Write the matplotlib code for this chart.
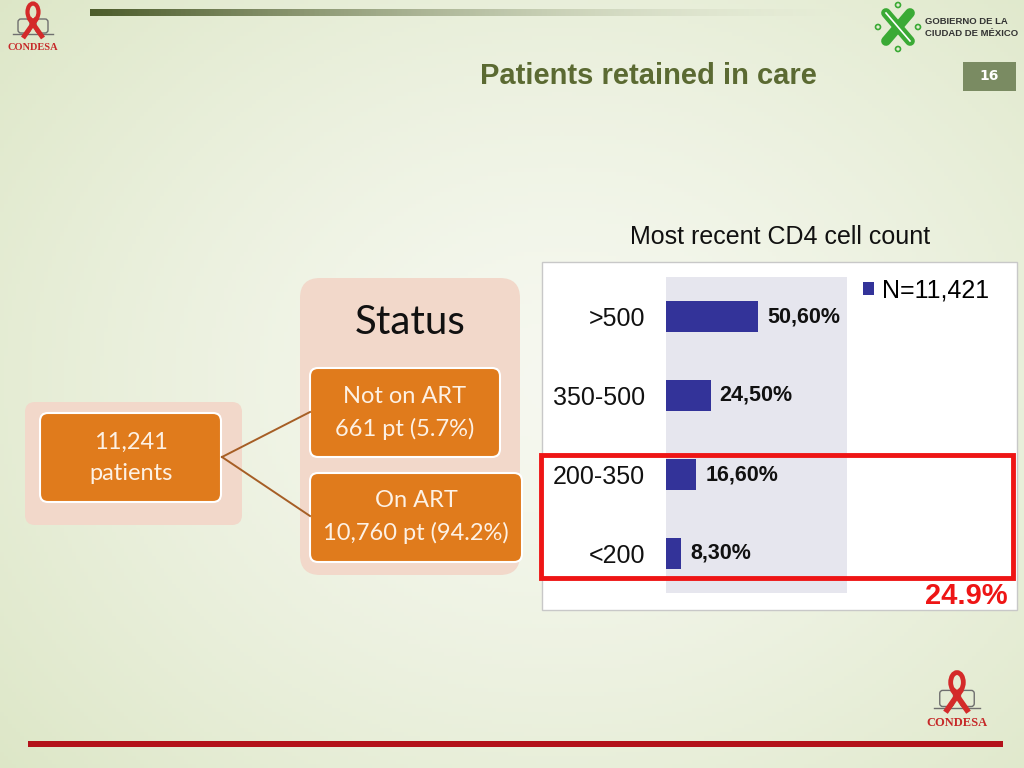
import numpy as np
import matplotlib
matplotlib.use("Agg")
import matplotlib.pyplot as plt
from matplotlib.patches import FancyBboxPatch, Rectangle, Circle, Ellipse

# ---------------- data ----------------
categories = [">500", "350-500", "200-350", "<200"]
values = [50.6, 24.5, 16.6, 8.3]
value_labels = ["50,60%", "24,50%", "16,60%", "8,30%"]
series_name = "N=11,421"
chart_title = "Most recent CD4 cell count"
highlight_label = "24.9%"
slide_title = "Patients retained in care"
page_number = "16"
root_text = "11,241\npatients"
group_title = "Status"
branch_texts = ["Not on ART\n661 pt (5.7%)", "On ART\n10,760 pt (94.2%)"]

W, H = 1024, 768
fig = plt.figure(figsize=(10.24, 7.68), dpi=100)

# ---------------- background layer (pixel coordinates) ----------------
bg = fig.add_axes([0, 0, 1, 1])
bg.set_xlim(0, W)
bg.set_ylim(H, 0)
bg.axis("off")

yy, xx = np.mgrid[0:H:4, 0:W:4]
r = np.sqrt(((xx - 560) / 640.0) ** 2 + ((yy - 380) / 520.0) ** 2)
c_center = np.array([0.965, 0.973, 0.94])
c_edge = np.array([0.86, 0.90, 0.77])
t = (np.clip(r, 0, 1.2) / 1.2)[..., None] ** 1.4
img = c_center * (1 - t) + c_edge * t
bg.imshow(img, extent=[0, W, H, 0], aspect="auto", zorder=0)

# top gradient bar
n = 300
grad = np.zeros((1, n, 4))
start = np.array([0.30, 0.36, 0.17])
end = np.array([0.90, 0.92, 0.84])
s = np.linspace(0, 1, n)[:, None]
grad[0, :, :3] = start * (1 - s) + end * s
grad[0, :, 3] = 1 - 0.85 * np.linspace(0, 1, n) ** 1.3
bg.imshow(grad, extent=[90, 830, 16, 9], aspect="auto", zorder=1)

# bottom red line
bg.add_patch(Rectangle((28, 741), 975, 6, facecolor="#b3121a", edgecolor="none", zorder=1))

# slide title & page number
bg.text(648, 76, slide_title, ha="center", va="center", fontsize=21, fontweight="bold",
        color="#5b6a32", family="Liberation Sans", zorder=2)
bg.add_patch(Rectangle((963, 62), 53, 29, facecolor="#7a8b62", edgecolor="none", zorder=2))
bg.text(989.5, 76.5, page_number, ha="center", va="center", fontsize=10, fontweight="bold",
        color="white", zorder=3)


# ---------------- logos ----------------
def condesa_logo(cx, top, scale, size):
    for dx in (-1, 1):
        bg.add_patch(FancyBboxPatch((cx + dx * 9 * scale - 6 * scale, top + 16 * scale), 12 * scale,
                                    14 * scale, boxstyle="round,pad=0,rounding_size=3",
                                    facecolor="none", edgecolor="#6f6f6f", lw=1.0, zorder=2))
    bg.plot([cx - 20 * scale, cx + 20 * scale], [top + 31 * scale, top + 31 * scale],
            color="#6f6f6f", lw=1.0, zorder=2)
    bg.add_patch(Ellipse((cx, top + 9 * scale), 11 * scale, 17 * scale, facecolor="none",
                         edgecolor="#d42a2a", lw=3 * scale, zorder=3))
    bg.plot([cx - 4 * scale, cx + 10 * scale], [top + 15 * scale, top + 35 * scale],
            color="#d42a2a", lw=3.5 * scale, solid_capstyle="butt", zorder=3)
    bg.plot([cx + 4 * scale, cx - 10 * scale], [top + 15 * scale, top + 35 * scale],
            color="#d42a2a", lw=3.5 * scale, solid_capstyle="butt", zorder=3)
    bg.text(cx, top + 44 * scale, "CONDESA", ha="center", va="center", fontsize=size,
            fontweight="bold", family="Liberation Serif", color="#c62828", zorder=3)


condesa_logo(33, 3, 1.0, 7.5)
condesa_logo(957, 672, 1.15, 9)

# Gobierno CDMX logo
gx, gy = 898, 27
for sgn in (-1, 1):
    bg.plot([gx - 12, gx + 12], [gy - 14 * sgn, gy + 14 * sgn], color="#3aaa35", lw=7,
            solid_capstyle="round", zorder=2)
bg.plot([gx - 12, gx + 12], [gy - 14, gy + 14], color="white", lw=1.2, zorder=3)
for (px, py) in [(gx, gy - 22), (gx, gy + 22), (gx - 20, gy), (gx + 20, gy)]:
    bg.add_patch(Circle((px, py), 2.5, facecolor="none", edgecolor="#3aaa35", lw=1.2, zorder=2))
bg.text(925, 21, "GOBIERNO DE LA", ha="left", va="center", fontsize=6.8, fontweight="bold",
        color="#333333", family="Liberation Sans", zorder=2)
bg.text(925, 33, "CIUDAD DE MÉXICO", ha="left", va="center", fontsize=6.8, fontweight="bold",
        color="#333333", family="Liberation Sans", zorder=2)

# ---------------- diagram ----------------
pale = "#f2d8ca"
orange = "#e07b1c"
txt_col = "#fdf1e4"
diag_font = ["Lato", "DejaVu Sans"]

bg.add_patch(FancyBboxPatch((25, 402), 217, 123, boxstyle="round,pad=0,rounding_size=10",
                            facecolor=pale, edgecolor="none", zorder=2))
bg.add_patch(FancyBboxPatch((300, 278), 220, 297, boxstyle="round,pad=0,rounding_size=20",
                            facecolor=pale, edgecolor="none", zorder=2))
bg.text(410, 323, group_title, ha="center", va="center", fontsize=29, color="#111111",
        family=diag_font, zorder=3)

boxes = [((40, 413, 181, 89), root_text, (131, 458)),
         ((310, 368, 190, 89), branch_texts[0], (405, 413)),
         ((310, 473, 212, 89), branch_texts[1], (416, 517))]
for (x0, y0, w, h), label, (tx, ty) in boxes:
    bg.add_patch(FancyBboxPatch((x0, y0), w, h, boxstyle="round,pad=0,rounding_size=8",
                                facecolor=orange, edgecolor="white", lw=1.5, zorder=3))
    bg.text(tx, ty, label, ha="center", va="center", fontsize=17, color=txt_col,
            family=diag_font, linespacing=1.62, zorder=4)

bg.plot([222, 310], [457, 412], color="#a65e25", lw=1.4, zorder=4)
bg.plot([222, 310], [457, 516], color="#a65e25", lw=1.4, zorder=4)

# ---------------- chart panel ----------------
bg.add_patch(Rectangle((542, 262), 475, 348, facecolor="white", edgecolor="#c8c8c8",
                       lw=1.0, zorder=2))
bg.text(780, 237, chart_title, ha="center", va="center", fontsize=18, color="#111111",
        family="Liberation Sans", zorder=2)

ax = fig.add_axes([666 / W, 1 - 593 / H, 181 / W, 316 / H])
ax.set_facecolor("#e6e6ee")
ypos = np.arange(len(categories))
bars = ax.barh(ypos, values, height=0.4, color="#333399", label=series_name)
ax.set_ylim(len(categories) - 0.5, -0.5)
ax.set_xlim(0, 99.5)
ax.set_yticks(ypos)
ax.set_yticklabels(categories, fontsize=18, family="Liberation Sans", color="#111111")
ax.tick_params(axis="y", length=0, pad=15)
ax.set_xticks([])
for sp in ax.spines.values():
    sp.set_visible(False)
for b, lab in zip(bars, value_labels):
    ax.annotate(lab, (b.get_width(), b.get_y() + b.get_height() / 2), xytext=(6.5, 0),
                textcoords="offset points", ha="left", va="center", fontsize=15.5,
                fontweight="bold", family="Liberation Sans", color="#111111", annotation_clip=False)

fig.legend(handles=[bars], labels=[series_name], loc="upper left",
           bbox_to_anchor=(840 / W, 1 - 256 / H), frameon=False,
           handlelength=0.45, handleheight=0.45, handletextpad=0.35,
           prop={"family": "Liberation Sans", "size": 18})

# ---------------- overlay (highlight) ----------------
ov = fig.add_axes([0, 0, 1, 1])
ov.set_xlim(0, W)
ov.set_ylim(H, 0)
ov.axis("off")
ov.patch.set_alpha(0)
ov.add_patch(Rectangle((541, 455), 472, 123, facecolor="none", edgecolor="#ee1515", lw=3.5))
ov.text(966, 596, highlight_label, ha="center", va="center", fontsize=21, fontweight="bold",
        color="#ee1515", family="Liberation Sans")

fig.savefig("out.png", dpi=100)
